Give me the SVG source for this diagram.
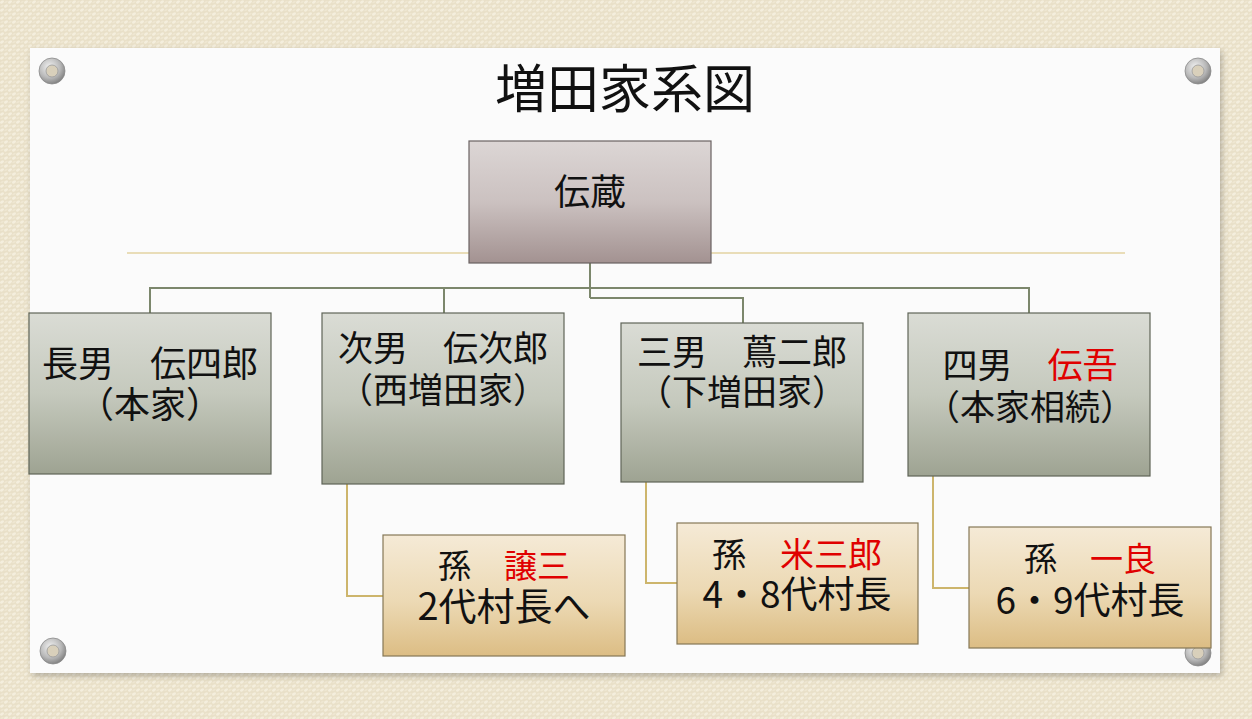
<svg xmlns="http://www.w3.org/2000/svg" width="1252" height="719" viewBox="0 0 1252 719">
<defs>
<style>
text{font-family:"Noto Sans CJK JP","Noto Sans CJK SC",sans-serif;fill:#111;text-anchor:middle}
.red{fill:#e00000}
.box{stroke-width:1.2}
.c1{stroke:#7c876c;stroke-width:2;fill:none}
.c2{stroke:#cdb56c;stroke-width:2;fill:none}
</style>
<pattern id="canvas" width="8" height="8" patternUnits="userSpaceOnUse">
<rect width="8" height="8" fill="#e9e0c8"/>
<ellipse cx="2" cy="2" rx="2.2" ry="1.3" fill="#f4eedd" transform="rotate(-30 2 2)"/>
<ellipse cx="6" cy="6" rx="2.2" ry="1.3" fill="#f4eedd" transform="rotate(-30 6 6)"/>
<ellipse cx="6" cy="2" rx="1.8" ry="1" fill="#efe7d2" transform="rotate(-30 6 2)"/>
<ellipse cx="2" cy="6" rx="1.8" ry="1" fill="#efe7d2" transform="rotate(-30 2 6)"/>
</pattern>
<linearGradient id="gTop" x1="0" y1="0" x2="0" y2="1">
<stop offset="0" stop-color="#dcd6d5"/>
<stop offset="0.5" stop-color="#cbc1c0"/>
<stop offset="1" stop-color="#a39291"/>
</linearGradient>
<linearGradient id="gChild" x1="0" y1="0" x2="0" y2="1">
<stop offset="0" stop-color="#dadcd5"/>
<stop offset="0.5" stop-color="#c5c9bd"/>
<stop offset="1" stop-color="#9ea392"/>
</linearGradient>
<linearGradient id="gGrand" x1="0" y1="0" x2="0" y2="1">
<stop offset="0" stop-color="#f5ead6"/>
<stop offset="0.55" stop-color="#ecd9b4"/>
<stop offset="1" stop-color="#dcbd84"/>
</linearGradient>
<radialGradient id="gRing" cx="0.4" cy="0.35" r="0.7">
<stop offset="0" stop-color="#f2f2f2"/>
<stop offset="0.6" stop-color="#b8b8b8"/>
<stop offset="1" stop-color="#7a7a7a"/>
</radialGradient>
<filter id="shadow" x="-5%" y="-5%" width="110%" height="110%">
<feDropShadow dx="2" dy="3" stdDeviation="3" flood-color="#000" flood-opacity="0.25"/>
</filter>
<g id="grommet">
<circle r="13" fill="url(#gRing)" stroke="#8a8a8a" stroke-width="0.8"/>
<circle r="6" fill="#d9d0bb" stroke="#9a9a9a" stroke-width="0.8"/>
</g>
</defs>

<rect width="1252" height="719" fill="url(#canvas)"/>
<rect x="30" y="48" width="1190" height="625" fill="#fbfbfb" filter="url(#shadow)"/>

<use href="#grommet" x="52" y="71"/>
<use href="#grommet" x="1198" y="71"/>
<use href="#grommet" x="53" y="651"/>
<use href="#grommet" x="1198" y="653"/>

<text x="625" y="108" font-size="52">増田家系図</text>

<line x1="127" y1="253" x2="1125" y2="253" stroke="#e3d3a2" stroke-width="1.5"/>

<g id="connectors">
<path class="c1" d="M590 263 V298 M150 313 V288 H1029 V313 M444 288 V313 M590 298 H743 V323"/>
<path class="c2" d="M347 484 V596 H383"/>
<path class="c2" d="M646 482 V583 H677"/>
<path class="c2" d="M933 476 V588 H969"/>
</g>

<g id="denzo">
<rect class="box" x="469" y="141" width="242" height="122" fill="url(#gTop)" stroke="#6a6262"/>
<text x="590" y="205" font-size="36">伝蔵</text>
</g>

<g id="denshiro">
<rect class="box" x="29" y="313" width="242" height="161" fill="url(#gChild)" stroke="#5f6458"/>
<text x="150" y="377" font-size="36">長男　伝四郎</text>
<text x="150" y="418" font-size="36">（本家）</text>
</g>

<g id="denjiro">
<rect class="box" x="322" y="313" width="242" height="171" fill="url(#gChild)" stroke="#5f6458"/>
<text x="443" y="361" font-size="35">次男　伝次郎</text>
<text x="443" y="403" font-size="35">（西増田家）</text>
</g>

<g id="tsutajiro">
<rect class="box" x="621" y="323" width="242" height="159" fill="url(#gChild)" stroke="#5f6458"/>
<text x="742" y="365" font-size="35">三男　蔦二郎</text>
<text x="742" y="405" font-size="35">（下増田家）</text>
</g>

<g id="dengo">
<rect class="box" x="908" y="313" width="242" height="163" fill="url(#gChild)" stroke="#5f6458"/>
<text x="1030" y="378" font-size="35">四男　<tspan class="red">伝吾</tspan></text>
<text x="1030" y="420" font-size="35">（本家相続）</text>
</g>

<g id="jozo">
<rect class="box" x="383" y="535" width="242" height="121" fill="url(#gGrand)" stroke="#857756"/>
<text x="504" y="578" font-size="33">孫　<tspan class="red">譲三</tspan></text>
<text x="504" y="620" font-size="38">2代村長へ</text>
</g>

<g id="yonesaburo">
<rect class="box" x="677" y="523" width="241" height="121" fill="url(#gGrand)" stroke="#857756"/>
<text x="797" y="567" font-size="34">孫　<tspan class="red">米三郎</tspan></text>
<text x="797" y="608" font-size="37">4・8代村長</text>
</g>

<g id="kazuyoshi">
<rect class="box" x="969" y="527" width="242" height="121" fill="url(#gGrand)" stroke="#857756"/>
<text x="1090" y="571" font-size="33">孫　<tspan class="red">一良</tspan></text>
<text x="1090" y="614" font-size="37">6・9代村長</text>
</g>
</svg>
